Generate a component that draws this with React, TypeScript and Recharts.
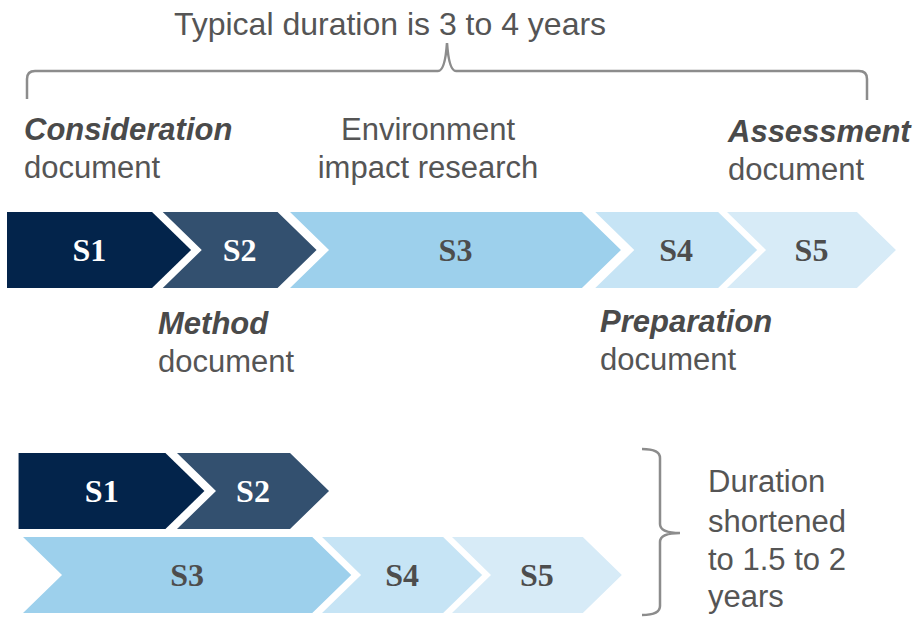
import { BarChart, Bar, XAxis, YAxis } from "recharts";

// stages of the assessment process
const STAGES = ["S1", "S2", "S3", "S4", "S5"];
const STAGE_COLORS = ["#03244b", "#33506f", "#9dd0ec", "#c6e4f5", "#d7ebf7"];
const LABEL_COLORS = ["#ffffff", "#ffffff", "#4d4d4d", "#4d4d4d", "#4d4d4d"];

// typical (sequential) schedule, positions on a 0-100 timeline
const typicalStart = [0, 17.5, 31.8, 66.1, 80.9];
const typicalEnd = [16.3, 30.4, 64.6, 79.9, 95.5];

// shortened schedule: S1-S2 run in parallel with S3-S5
const laneAStages = ["S1", "S2"];
const laneAStart = [1.3, 19.1];
const laneAEnd = [17.8, 31.8];
const laneBStages = ["S3", "S4", "S5"];
const laneBStart = [1.8, 35.4, 50.0];
const laneBEnd = [34.3, 49.0, 64.7];

const typicalData = [
  {
    lane: "typical",
    ...Object.fromEntries(STAGES.map((s, i) => [s, [typicalStart[i], typicalEnd[i]]])),
  },
];

const shortData = [
  {
    lane: "parallel-a",
    ...Object.fromEntries(laneAStages.map((s, i) => [s, [laneAStart[i], laneAEnd[i]]])),
  },
  {
    lane: "parallel-b",
    ...Object.fromEntries(laneBStages.map((s, i) => [s, [laneBStart[i], laneBEnd[i]]])),
  },
];

const TIP = 39;
const BAR = 76;
const FONT = '"Liberation Sans", Arial, sans-serif';
const LABEL_FONT = '"Liberation Serif", "Times New Roman", serif';
const TEXT = "#555555";
const EMPH = "#4a4a4a";
const BRACE = "#8c8c8c";

function Chevron(props: any) {
  const { x, y, width, height, stageIndex } = props;
  if (!Number.isFinite(width) || !Number.isFinite(x) || width <= 0) return null;
  const flat = stageIndex === 0;
  const mid = y + height / 2;
  const d = flat
    ? `M${x},${y} L${x + width},${y} L${x + width + TIP},${mid} L${x + width},${y + height} L${x},${y + height} Z`
    : `M${x},${y} L${x + width},${y} L${x + width + TIP},${mid} L${x + width},${y + height} L${x},${y + height} L${x + TIP},${mid} Z`;
  const cx = flat ? x + width / 2 + TIP / 4 : x + (width + TIP) / 2;
  return (
    <g>
      <path d={d} fill={STAGE_COLORS[stageIndex]} />
      <text
        x={cx}
        y={mid + 11}
        textAnchor="middle"
        fontFamily={LABEL_FONT}
        fontWeight="bold"
        fontSize={32}
        fill={LABEL_COLORS[stageIndex]}
      >
        {STAGES[stageIndex]}
      </text>
    </g>
  );
}

function stageBars() {
  return STAGES.map((s, i) => (
    <Bar
      key={s}
      dataKey={s}
      barSize={BAR}
      fill={STAGE_COLORS[i]}
      isAnimationActive={false}
      shape={(p: any) => <Chevron {...p} stageIndex={i} />}
    />
  ));
}

function TwoLine({ x, y, first, second, bold, anchor = "start" }: any) {
  return (
    <g fontFamily={FONT} fontSize={31} textAnchor={anchor}>
      <text
        x={x}
        y={y}
        fill={bold ? EMPH : TEXT}
        fontWeight={bold ? "bold" : "normal"}
        fontStyle={bold ? "italic" : "normal"}
      >
        {first}
      </text>
      <text x={x} y={y + 38} fill={TEXT}>
        {second}
      </text>
    </g>
  );
}

export default function App() {
  return (
    <div style={{ position: "absolute", left: 0, top: 0, width: 918, height: 618, background: "#fff" }}>
      <div style={{ position: "absolute", left: 0, top: 0 }}>
        <BarChart
          width={918}
          height={400}
          data={typicalData}
          layout="vertical"
          barGap={-BAR}
          margin={{ top: 170, right: 21, bottom: 70, left: 7 }}
        >
          <XAxis type="number" domain={[0, 100]} hide />
          <YAxis type="category" dataKey="lane" hide width={0} />
          {stageBars()}
          <text x={390} y={35} textAnchor="middle" fontFamily={FONT} fontSize={32} fill={TEXT}>
            Typical duration is 3 to 4 years
          </text>
          <path
            d="M27,99 L27,79 Q27,71 35,71 L438,71 Q445,71 447,43 Q449,71 456,71 L859,71 Q867,71 867,79 L867,100"
            fill="none"
            stroke={BRACE}
            strokeWidth={2.5}
          />
          <TwoLine x={24} y={140} first="Consideration" second="document" bold />
          <TwoLine x={428} y={140} first="Environment" second="impact research" anchor="middle" />
          <TwoLine x={728} y={142} first="Assessment" second="document" bold />
          <TwoLine x={158} y={334} first="Method" second="document" bold />
          <TwoLine x={600} y={332} first="Preparation" second="document" bold />
        </BarChart>
      </div>
      <div style={{ position: "absolute", left: 0, top: 400 }}>
        <BarChart
          width={918}
          height={218}
          data={shortData}
          layout="vertical"
          barGap={-BAR}
          barCategoryGap={8}
          margin={{ top: 49, right: 21, bottom: 1, left: 7 }}
        >
          <XAxis type="number" domain={[0, 100]} hide />
          <YAxis type="category" dataKey="lane" hide width={0} />
          {stageBars()}
          <path
            d="M642,49 Q660,49 660,58 L660,124 Q660,133 680,133 Q660,133 660,142 L660,206 Q660,215 642,215"
            fill="none"
            stroke={BRACE}
            strokeWidth={2.5}
          />
          <g fontFamily={FONT} fontSize={31} fill={TEXT}>
            <text x={708} y={92}>Duration</text>
            <text x={708} y={132}>shortened</text>
            <text x={708} y={170}>to 1.5 to 2</text>
            <text x={708} y={207}>years</text>
          </g>
        </BarChart>
      </div>
    </div>
  );
}
